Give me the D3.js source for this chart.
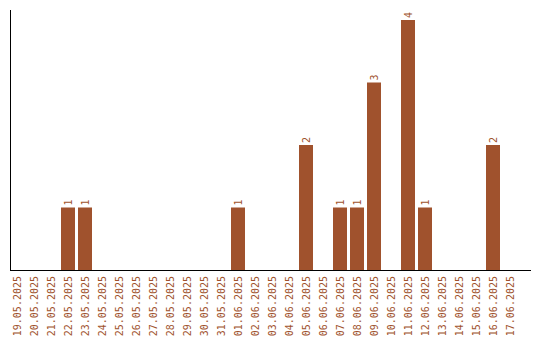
<!DOCTYPE html>
<html><head><meta charset="utf-8">
<script src="https://cdn.jsdelivr.net/npm/d3@7"></script>
<style>html,body{margin:0;padding:0;background:#fff;}svg{display:block;}</style>
</head><body>
<script>
const categories = ["19.05.2025","20.05.2025","21.05.2025","22.05.2025","23.05.2025","24.05.2025","25.05.2025","26.05.2025","27.05.2025","28.05.2025","29.05.2025","30.05.2025","31.05.2025","01.06.2025","02.06.2025","03.06.2025","04.06.2025","05.06.2025","06.06.2025","07.06.2025","08.06.2025","09.06.2025","10.06.2025","11.06.2025","12.06.2025","13.06.2025","14.06.2025","15.06.2025","16.06.2025","17.06.2025"];
const values = [0,0,0,1,1,0,0,0,0,0,0,0,0,1,0,0,0,2,0,1,1,3,0,4,1,0,0,0,2,0];

const W = 540, H = 340;
const color = "#A0522D";
const svg = d3.select("body").append("svg").attr("width", W).attr("height", H);

const x = d3.scaleBand().domain(categories).range([8.5, 518.5]).paddingInner(3/17).paddingOuter(1.5/17);
const y = d3.scaleLinear().domain([0, 4]).range([270, 20]);

const data = values.map((v, i) => ({v, c: categories[i]})).filter(d => d.v > 0);

svg.append("g").selectAll("rect").data(data).join("rect")
  .attr("x", d => x(d.c))
  .attr("y", d => y(d.v))
  .attr("width", x.bandwidth())
  .attr("height", d => y(0) - y(d.v))
  .attr("fill", color);

svg.append("g").selectAll("text").data(data).join("text")
  .attr("transform", d => `translate(${x(d.c) + x.bandwidth()/2 + 3.5},${y(d.v) - 2}) rotate(-90)`)
  .attr("font-family", "DejaVu Sans Mono")
  .attr("font-size", 10)
  .attr("fill", color)
  .text(d => d.v);

// axes lines
svg.append("line").attr("x1", 10.5).attr("x2", 10.5).attr("y1", 10).attr("y2", 270.5).attr("stroke", "#000");
svg.append("line").attr("x1", 10).attr("x2", 531).attr("y1", 270.5).attr("y2", 270.5).attr("stroke", "#000");

const xAxis = d3.axisBottom(x).tickSize(0).tickPadding(0);
const gx = svg.append("g").attr("transform", "translate(0,270)").call(xAxis);
gx.select(".domain").remove();
gx.selectAll("text")
  .attr("font-family", "DejaVu Sans Mono")
  .attr("font-size", 10)
  .attr("fill", color)
  .attr("text-anchor", "end")
  .attr("dy", null)
  .attr("y", 0)
  .attr("transform", "translate(3.5,6) rotate(-90)");
</script>
</body></html>
